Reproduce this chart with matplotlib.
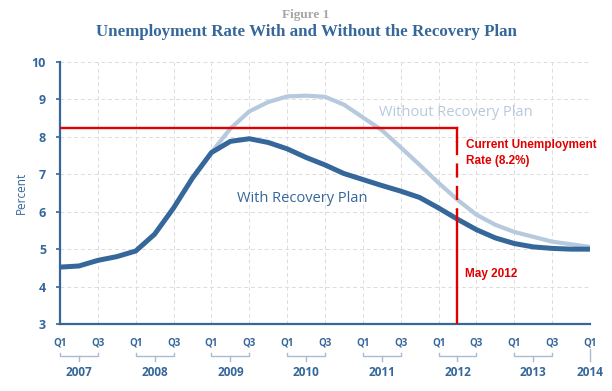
import matplotlib
matplotlib.use("Agg")
import matplotlib.pyplot as plt
import numpy as np

# quarterly values, Q1 2007 .. Q1 2014
with_plan = [4.52, 4.55, 4.7, 4.8, 4.95, 5.4, 6.1, 6.9,
             7.58, 7.88, 7.95, 7.85, 7.68, 7.45, 7.25, 7.02,
             6.86, 6.7, 6.55, 6.38, 6.1, 5.8, 5.52, 5.3,
             5.15, 5.06, 5.02, 5.0, 5.0]
# without plan, Q1 2009 .. Q1 2014
without_plan = [7.58, 8.22, 8.68, 8.93, 9.08, 9.1, 9.07, 8.86,
                8.52, 8.18, 7.72, 7.25, 6.77, 6.32, 5.92, 5.65,
                5.46, 5.33, 5.2, 5.13, 5.06]
without_start = 8

years = ['2007', '2008', '2009', '2010', '2011', '2012', '2013', '2014']
qlabels = ['Q1', 'Q3'] * 7 + ['Q1']

current_rate = 8.25      # horizontal red line
may_2012 = 21            # quarter index for May 2012

blue = '#35679a'
light = '#b6c9dd'
red = '#e00000'
grid_c = '#dcdcdc'

fig = plt.figure(figsize=(6.12, 3.91), dpi=100)
ax = fig.add_axes([60/612, 1-324/391, 530/612, 262/391])

q = np.arange(len(with_plan))
ax.plot(q[without_start:], without_plan, color=light, lw=3.0, solid_capstyle='butt', zorder=3)
ax.plot(q, with_plan, color=blue, lw=3.6, solid_capstyle='butt', zorder=4)

# red reference lines
ax.plot([0, may_2012], [current_rate, current_rate], color=red, lw=1.7, zorder=5)
ax.plot([may_2012, may_2012], [current_rate, 7.9], color=red, lw=1.7, zorder=5)
ax.plot([may_2012, may_2012], [7.9, 6.05], color=red, lw=1.7, zorder=5,
         dashes=(6, 3.5))
ax.plot([may_2012, may_2012], [6.05, 3], color=red, lw=1.7, zorder=5)

ax.set_xlim(0, 28)
ax.set_ylim(3, 10)
ax.set_yticks(range(3, 11))
ax.set_xticks(range(0, 29, 2))
ax.set_xticklabels(qlabels)
ax.grid(True, color=grid_c, ls=(0, (4, 3)), lw=0.7)
ax.set_axisbelow(True)

for s in ['top', 'right']:
    ax.spines[s].set_visible(False)
for s in ['left', 'bottom']:
    ax.spines[s].set_color(blue)
    ax.spines[s].set_linewidth(1.6)

ax.tick_params(axis='y', length=3, width=1.2, color=blue, pad=7,
               labelcolor=blue, labelsize=9)
ax.tick_params(axis='x', length=0, pad=10, labelcolor=blue, labelsize=7)
for lab in ax.get_yticklabels() + ax.get_xticklabels():
    lab.set_fontfamily('Open Sans')
    lab.set_fontweight('bold')

ax.set_ylabel('Percent', color=blue, fontsize=8.5, family='Open Sans', labelpad=3)

# year brackets under the quarter labels
trans = ax.get_xaxis_transform()
by = -32/262
for i, yr in enumerate(years):
    x0 = i * 4
    if i < len(years) - 1:
        ax.plot([x0, x0, x0 + 2, x0 + 2], [by + 0.01, by, by, by + 0.01],
                color='#a9bbcf', lw=1, transform=trans, clip_on=False)
        ax.plot([x0 + 1, x0 + 1], [by, by - 0.02], color='#a9bbcf', lw=1,
                transform=trans, clip_on=False)
        xc = x0 + 1
    else:
        ax.plot([x0, x0], [by + 0.025, by - 0.02], color='#a9bbcf', lw=1,
                transform=trans, clip_on=False)
        xc = x0
    ax.text(xc, -48/262, yr, transform=trans, ha='center', va='center',
            color=blue, fontsize=8.5, fontweight='bold', family='Open Sans')

# series labels
ax.text(20.9, 8.64, 'Without Recovery Plan', color=light, fontsize=10.5,
        family='Open Sans', ha='center', va='center')
ax.text(12.8, 6.34, 'With Recovery Plan', color=blue, fontsize=10.5,
        family='Open Sans', ha='center', va='center')

# red annotations
ax.text(21.45, 7.79, 'Current Unemployment', color=red, fontsize=8.5,
        fontweight='bold', family='Liberation Sans', va='center')
ax.text(21.45, 7.36, 'Rate (8.2%)', color=red, fontsize=8.5,
        fontweight='bold', family='Liberation Sans', va='center')
ax.text(21.4, 4.34, 'May 2012', color=red, fontsize=8.5,
        fontweight='bold', family='Liberation Sans', va='center')

# titles
fig.text(0.5, 1-15/391, 'Figure 1', color='#a5a5a5', fontsize=9.5,
         fontweight='bold', family='Liberation Serif', ha='center', va='center')
fig.text(0.5, 1-32/391, 'Unemployment Rate With and Without the Recovery Plan',
         color=blue, fontsize=12.2, fontweight='bold', family='Liberation Serif',
         ha='center', va='center')

fig.savefig('out.png', dpi=100)
